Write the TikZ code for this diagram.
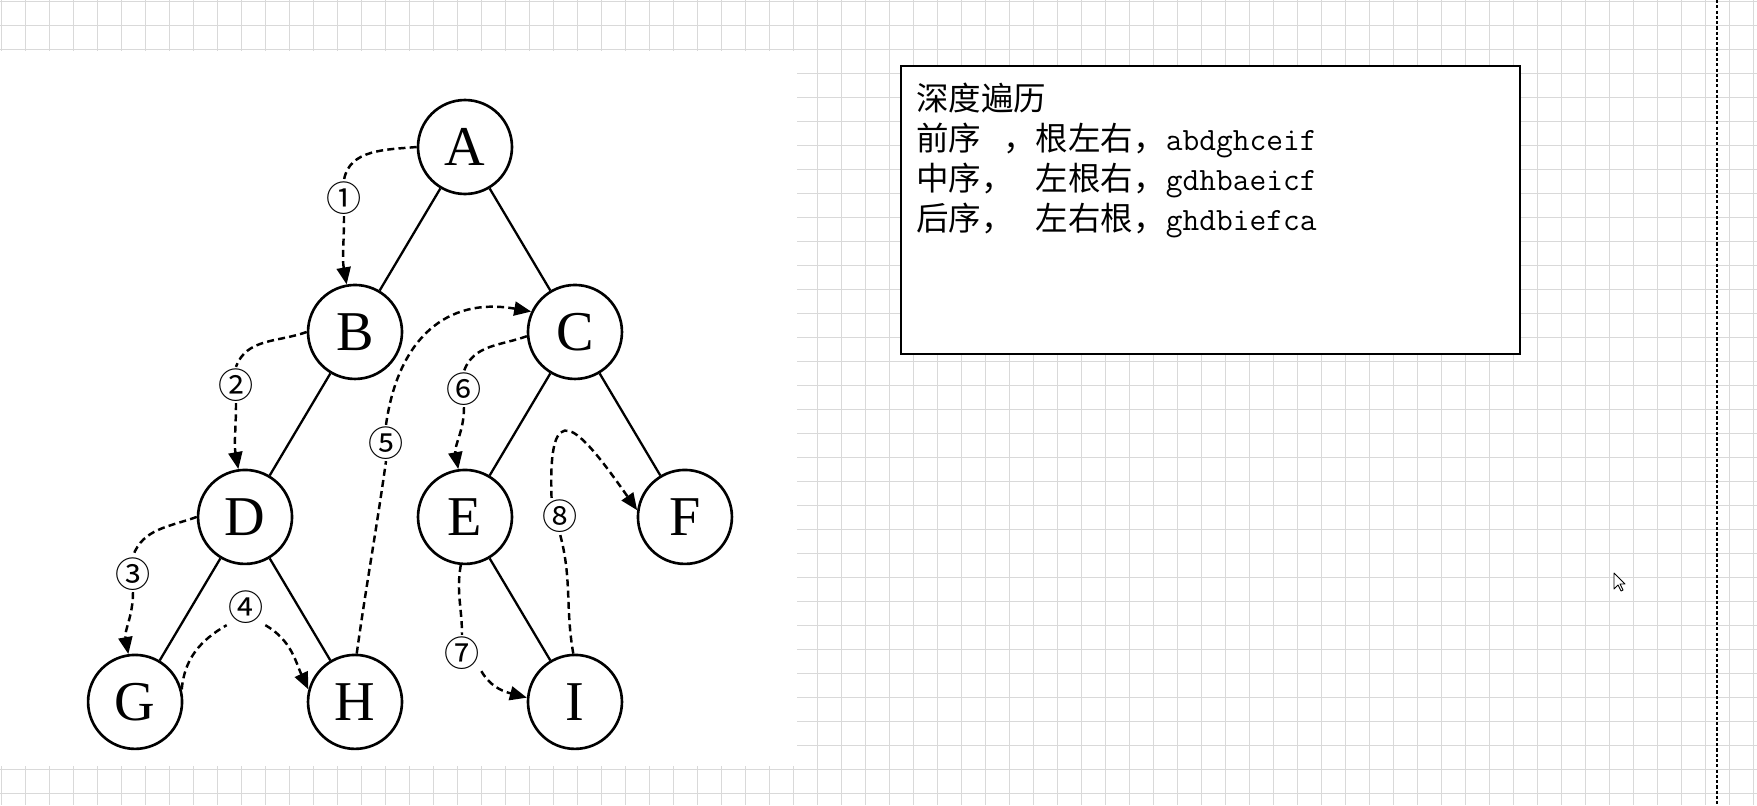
\documentclass[tikz,border=0pt]{standalone}
\usepackage{fontspec}
\setmainfont{Liberation Serif}
\newfontfamily\cjkfont{Noto Sans CJK SC}
\usetikzlibrary{positioning,arrows.meta}
\definecolor{gridgray}{HTML}{D9D9D9}

\begin{document}
\begin{tikzpicture}[x=0.02cm,y=-0.02cm,
  node distance=3.7cm and 2.2cm,on grid,
  vert/.style={draw,circle,line width=1.5pt,minimum size=1.88cm,inner sep=0pt,font=\fontsize{32}{36}\selectfont},
  edge/.style={line width=1.3pt},
  walk/.style={line width=1.4pt,dash pattern=on 4pt off 2.4pt},
  walkarr/.style={walk,-{Triangle[length=3.4mm,width=2.8mm]}},
  num/.style={inner sep=0pt,outer sep=1pt,font=\cjkfont\fontsize{20}{20}\selectfont},
  note/.style={anchor=base west,inner sep=0pt,font=\cjkfont\fontsize{18.5}{22}\selectfont},
  gridln/.style={gridgray,line width=0.6pt}
]
  \useasboundingbox (0,0) rectangle (1757,805);
  % squared paper
  \fill[white] (0,0) rectangle (1757,805);
  \foreach \i in {0,...,73} \draw[gridln] ({1.3+24*\i},0) -- ({1.3+24*\i},805);
  \foreach \j in {0,...,33} \draw[gridln] (0,{1.3+24*\j}) -- (1757,{1.3+24*\j});
  \fill[white] (0,51) rectangle (797,766);
  \draw[line width=0.6pt,dash pattern=on 1.8pt off 1.2pt] (1717,0) -- (1717,805);

  % tree
  \node[vert] (A) at (465,147) {A};
  \node[vert,below left=of A] (B) {B};
  \node[vert,below right=of A] (C) {C};
  \node[vert,below left=of B] (D) {D};
  \node[vert,below left=of C] (E) {E};
  \node[vert,below right=of C] (F) {F};
  \node[vert,below left=of D] (G) {G};
  \node[vert,below right=of D] (H) {H};
  \node[vert,below right=of E] (I) {I};
  \draw[edge] (A) -- (B); \draw[edge] (A) -- (C);
  \draw[edge] (B) -- (D); \draw[edge] (C) -- (E); \draw[edge] (C) -- (F);
  \draw[edge] (D) -- (G); \draw[edge] (D) -- (H); \draw[edge] (E) -- (I);

  % visiting order
  \node[num] (n1) at (344,198) {①};
  \node[num] (n2) at (236,385) {②};
  \node[num] (n3) at (133,574) {③};
  \node[num] (n4) at (246,607) {④};
  \node[num] (n5) at (386,443) {⑤};
  \node[num] (n6) at (464,389) {⑥};
  \node[num] (n7) at (462,653) {⑦};
  \node[num] (n8) at (560,516) {⑧};
  \draw[walk] (A.180) to[out=185,in=80] (n1.north);
  \draw[walkarr] (n1.south) to[out=-90,in=100] (B.100);
  \draw[walk] (B.180) to[out=200,in=70] (n2.north);
  \draw[walkarr] (n2.south) to[out=-90,in=100] (D.98);
  \draw[walk] (D.180) to[out=200,in=70] (n3.north);
  \draw[walkarr] (n3.south) to[out=-90,in=100] (G.98);
  \draw[walk] (G.15) to[out=85,in=210] (n4.south west);
  \draw[walkarr] (n4.south east) to[out=-30,in=115] (H.165);
  \draw[walk] (H.88) to[out=82,in=-98] (n5.south);
  \draw[walkarr] (n5.north) to[out=82,in=170,looseness=1.2] (C.155);
  \draw[walk] (C.185) to[out=200,in=70] (n6.north);
  \draw[walkarr] (n6.south) to[out=-90,in=100] (E.98);
  \draw[walk] (E.265) to[out=-100,in=90] (n7.north);
  \draw[walkarr] (n7.south east) to[out=-60,in=165] (I.175);
  \draw[walk] (I.92) to[out=100,in=-75] (n8.south);
  \draw[walkarr] (n8.115) to[out=92,in=125,looseness=3.1] (F.172);

  % note box
  \node[draw,line width=0.9pt,fill=white,minimum width=12.38cm,minimum height=5.76cm,inner sep=0pt] (box) at (1210.5,210) {};
  \node[note] (t0) at (916,110) {深度遍历};
  \node[note] (t1) at (916,150) {前序\hspace{0.44cm}，根左右，\ttfamily abdghceif};
  \node[note] (t2) at (916,190) {中序，\hspace{0.44cm}左根右，\ttfamily gdhbaeicf};
  \node[note] (t3) at (916,230) {后序，\hspace{0.44cm}左右根，\ttfamily ghdbiefca};

  % mouse pointer
  \draw[fill=white,line width=0.5pt,line join=round] (1614,573) -- ++(0,16) -- ++(4,-4) -- ++(3,6) -- ++(2,-1) -- ++(-3,-6) -- ++(5,0) -- cycle;
\end{tikzpicture}
\end{document}
